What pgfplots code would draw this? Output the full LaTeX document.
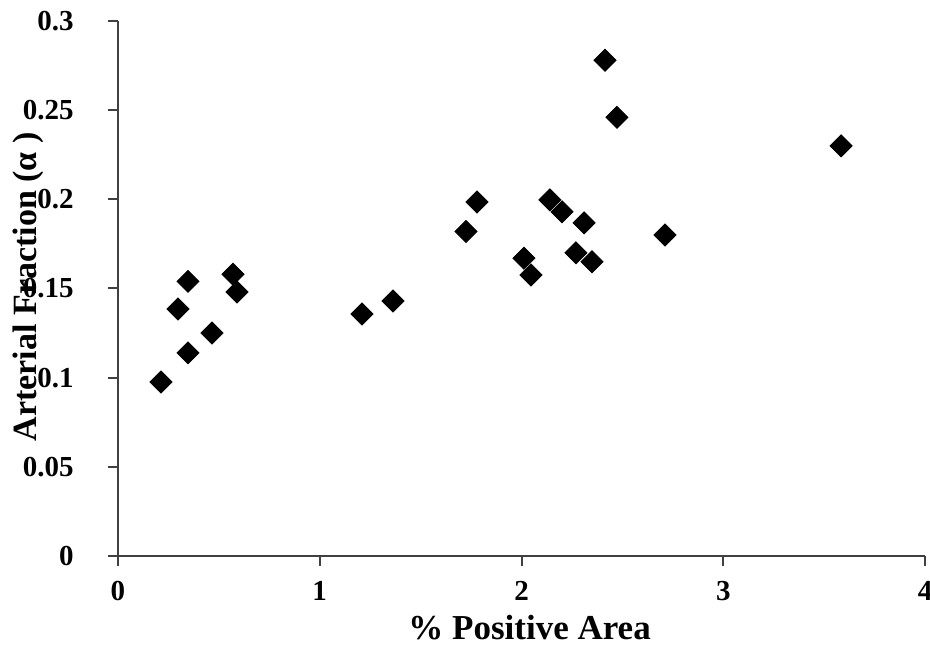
\documentclass[border=0pt]{standalone}
\usepackage{pgfplots}
\pgfplotsset{compat=1.18}
\usepackage{fontspec}
\setmainfont{Liberation Serif}
\begin{document}
\begin{tikzpicture}
\path[use as bounding box] (-59pt,-45pt) rectangle (406pt,278pt);
\begin{axis}[
  scale only axis, width=403.5pt, height=267.5pt,
  xmin=0, xmax=4, ymin=0, ymax=0.3,
  axis lines=left,
  axis line style={-, draw=black!75, line width=1pt},
  xtick={0,1,2,3,4}, xticklabels={0,1,2,3,4},
  ytick={0,0.05,0.1,0.15,0.2,0.25,0.3},
  yticklabels={0,0.05,0.1,0.15,0.2,0.25,0.3},
  tick align=outside, major tick length=5pt,
  tick style={draw=black!75, line width=1pt},
  ticklabel style={font=\bfseries\fontsize{14.5}{15}\selectfont},
  yticklabel style={anchor=east, inner sep=0pt},
  xticklabel style={anchor=north, inner sep=0pt},
  yticklabel shift=17pt,
  xticklabel shift=7.5pt,
  xlabel={\%~Positive Area},
  ylabel={Arterial Fraction (α )},
  label style={font=\bfseries\fontsize{17.5}{20}\selectfont},
  xlabel style={at={([yshift=-36pt]axis description cs:0.51,0)}, anchor=center},
  ylabel style={at={([xshift=-45pt]axis description cs:0,0.503)}, anchor=center,
    font=\bfseries\fontsize{17}{20}\selectfont},
  clip=false,
]
\addplot[only marks, mark=square*, mark size=3.9pt,
  mark options={rotate=45, fill=black, draw=black}] table {
x y
0.213 0.0976
0.297 0.1385
0.347 0.154
0.347 0.1139
0.466 0.125
0.570 0.158
0.590 0.148
1.209 0.1357
1.363 0.143
1.725 0.182
1.779 0.1985
2.012 0.167
2.047 0.1576
2.141 0.1997
2.201 0.193
2.310 0.1868
2.270 0.170
2.349 0.165
2.414 0.278
2.473 0.246
2.711 0.180
3.584 0.230
};
\end{axis}
\end{tikzpicture}
\end{document}
